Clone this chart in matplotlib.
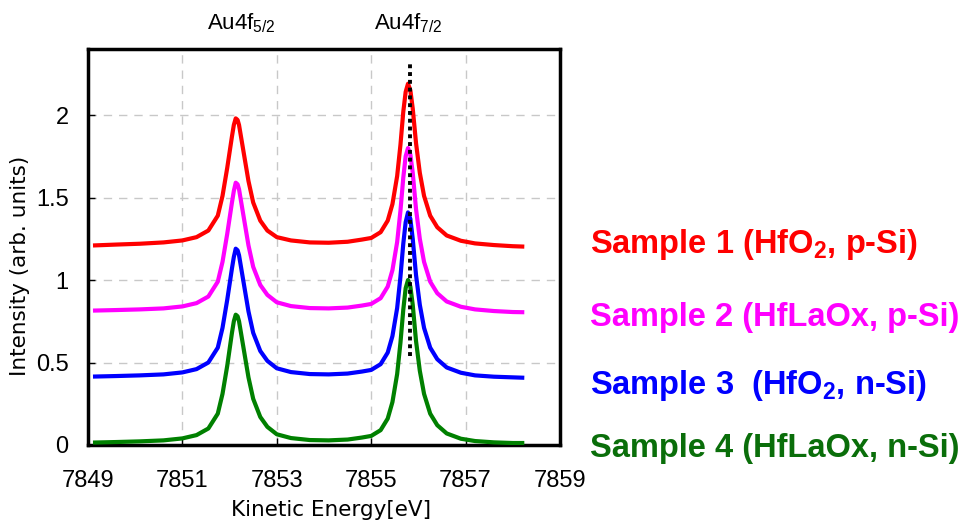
import matplotlib
matplotlib.use('Agg')
import matplotlib.pyplot as plt

plt.rcParams['font.family'] = ['Liberation Sans', 'DejaVu Sans']
plt.rcParams['mathtext.default'] = 'regular'

# Kinetic energy (eV), shared by all spectra
energy = [7849.15, 7849.6, 7850.1, 7850.6, 7851.0, 7851.3, 7851.55, 7851.75, 7851.85, 7851.95,
          7852.05, 7852.09, 7852.13, 7852.17, 7852.2, 7852.3, 7852.4, 7852.5, 7852.65, 7852.8,
          7853.0, 7853.3, 7853.7, 7854.1, 7854.5, 7854.8, 7855.0, 7855.2, 7855.35, 7855.45,
          7855.55, 7855.62, 7855.68, 7855.73, 7855.78, 7855.83, 7855.88, 7855.95, 7856.03, 7856.12,
          7856.25, 7856.4, 7856.6, 7856.9, 7857.2, 7857.6, 7858.0, 7858.2]

sample1 = [1.21, 1.215, 1.22, 1.228, 1.24, 1.26, 1.30, 1.39, 1.51, 1.68,
           1.87, 1.94, 1.98, 1.97, 1.94, 1.77, 1.60, 1.47, 1.36, 1.30,
           1.26, 1.24, 1.228, 1.226, 1.232, 1.245, 1.255, 1.29, 1.36, 1.46,
           1.63, 1.82, 2.02, 2.14, 2.19, 2.15, 2.04, 1.83, 1.65, 1.51,
           1.39, 1.32, 1.27, 1.238, 1.222, 1.212, 1.205, 1.203]
sample2 = [0.815, 0.818, 0.822, 0.828, 0.84, 0.86, 0.90, 0.99, 1.11, 1.28,
           1.47, 1.54, 1.59, 1.58, 1.55, 1.38, 1.21, 1.08, 0.97, 0.91,
           0.865, 0.842, 0.83, 0.828, 0.833, 0.845, 0.855, 0.89, 0.96, 1.06,
           1.23, 1.42, 1.62, 1.75, 1.80, 1.76, 1.65, 1.43, 1.25, 1.11,
           0.99, 0.92, 0.87, 0.838, 0.822, 0.812, 0.806, 0.805]
sample3 = [0.415, 0.418, 0.422, 0.428, 0.44, 0.46, 0.50, 0.59, 0.71, 0.88,
           1.07, 1.14, 1.19, 1.18, 1.15, 0.98, 0.81, 0.68, 0.57, 0.51,
           0.465, 0.442, 0.43, 0.428, 0.433, 0.445, 0.455, 0.49, 0.56, 0.66,
           0.83, 1.02, 1.22, 1.35, 1.41, 1.37, 1.25, 1.03, 0.85, 0.71,
           0.59, 0.52, 0.47, 0.438, 0.422, 0.414, 0.41, 0.408]
sample4 = [0.015, 0.018, 0.022, 0.028, 0.04, 0.06, 0.10, 0.19, 0.31, 0.48,
           0.68, 0.75, 0.79, 0.78, 0.75, 0.58, 0.41, 0.28, 0.17, 0.11,
           0.065, 0.042, 0.03, 0.028, 0.033, 0.045, 0.055, 0.09, 0.16, 0.26,
           0.43, 0.62, 0.82, 0.95, 1.0, 0.96, 0.85, 0.63, 0.45, 0.31,
           0.19, 0.12, 0.07, 0.038, 0.024, 0.016, 0.012, 0.012]

series = [sample1, sample2, sample3, sample4]
line_colors = ['#ff0000', '#ff00ff', '#0000ff', '#008000']
label_colors = ['#ff0000', '#ff00ff', '#0000ff', '#0a6e0a']
labels = ['Sample 1 (HfO$_2$, p-Si)', 'Sample 2 (HfLaOx, p-Si)',
          'Sample 3  (HfO$_2$, n-Si)', 'Sample 4 (HfLaOx, n-Si)']
label_y = [0.536, 0.396, 0.268, 0.148]  # figure fraction

# reference marker at the Au4f7/2 peak
marker_x = 7855.82
marker_y = [0.54, 2.33]
peak_names = ['Au4f$_{5/2}$', 'Au4f$_{7/2}$']
peak_pos = [7852.25, 7855.78]

fig = plt.figure(figsize=(9.68, 5.26), dpi=100)
ax = fig.add_axes([0.0909, 0.154, 0.4876, 0.7527])

for y, c in zip(series, line_colors):
    ax.plot(energy, y, color=c, lw=3.0, solid_joinstyle='round', zorder=3)

ax.plot([marker_x, marker_x], marker_y, color='black', lw=2.8,
        linestyle=(0, (1, 1)), zorder=4)

ax.set_xlim(7849, 7859)
ax.set_ylim(0, 2.4)
ax.set_xticks([7849, 7851, 7853, 7855, 7857, 7859])
ax.set_yticks([0, 0.5, 1, 1.5, 2])
ax.set_yticklabels(['0', '0.5', '1', '1.5', '2'])
ax.grid(True, color='#c8c8c8', linestyle=(0, (6, 5)), lw=1)
ax.tick_params(direction='in', length=5, width=1, labelsize=17)
ax.tick_params(axis='x', pad=18)
ax.tick_params(axis='y', pad=14)
for s in ax.spines.values():
    s.set_linewidth(2.5)

ax.set_xlabel('Kinetic Energy[eV]', fontsize=15.5, family='DejaVu Sans', va='center')
ax.xaxis.set_label_coords(0.515, -0.164)
ax.set_ylabel('Intensity (arb. units)', fontsize=15.5, family='DejaVu Sans', va='center')
ax.yaxis.set_label_coords(-0.144, 0.452)

for name, px in zip(peak_names, peak_pos):
    ax.text(px, 1.05, name, transform=ax.get_xaxis_transform(),
            ha='center', va='baseline', fontsize=16)

for lab, c, yy in zip(labels, label_colors, label_y):
    fig.text(0.609, yy, lab, color=c, fontsize=23.5, fontweight='bold',
             ha='left', va='center')

fig.savefig('out.png', dpi=100)
